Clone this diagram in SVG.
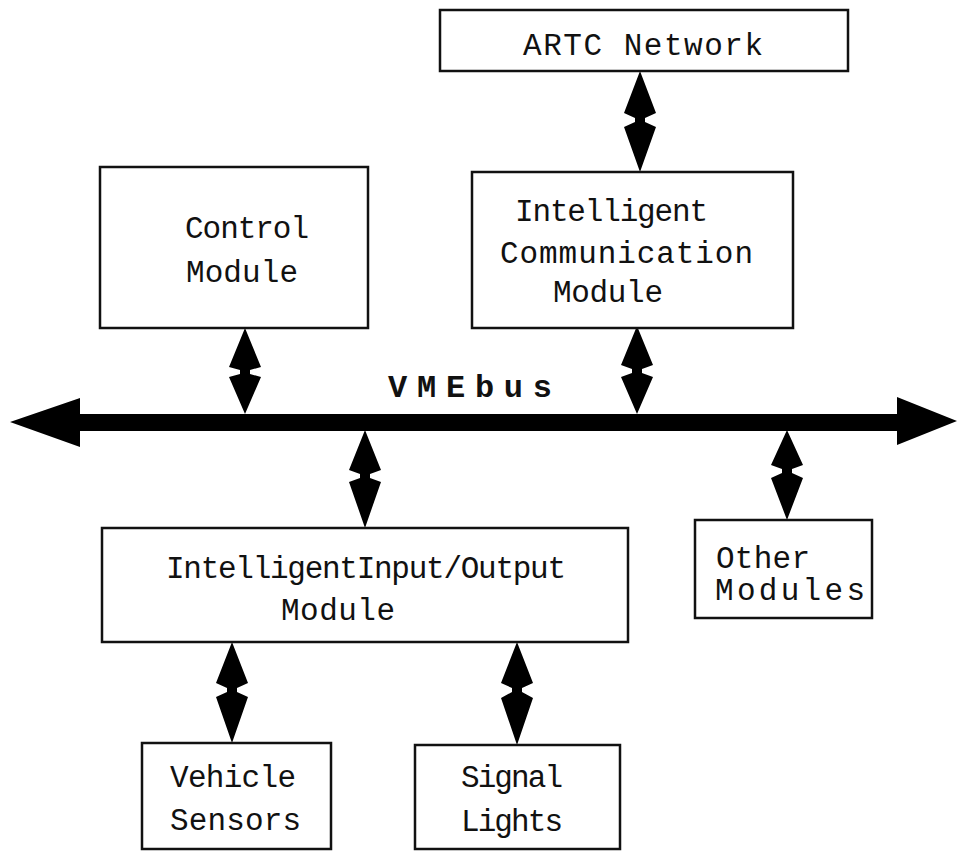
<svg xmlns="http://www.w3.org/2000/svg" width="958" height="852" viewBox="0 0 958 852">
  <style>
    .box { fill: #ffffff; stroke: #111111; stroke-width: 2.5; }
    .lbl { font-family: "Liberation Mono", "Courier New", monospace; font-size: 31px; fill: #111111; }
    .bus-lbl { font-family: "Liberation Mono", "Courier New", monospace; font-size: 32px; font-weight: bold; fill: #111111; }
    .arrow { fill: #000000; stroke: none; }
  </style>
  <rect x="0" y="0" width="958" height="852" fill="#ffffff"/>

  <!-- connectors: the VMEbus and the two-way links -->
  <g id="connectors">
    <polygon id="vmebus" class="arrow" points="10,422 80,398 80,414 897,414 897,397 957,421 897,445 897,431 80,431 80,447"/>
    <text class="bus-lbl" x="388" y="397" textLength="164" lengthAdjust="spacing">VMEbus</text>
    <!-- ARTC Network <-> Communication Module -->
    <polygon class="arrow" points="640,71 656,113 645,118 645,122 656,127 640,172 624,127 635,122 635,118 624,113"/>
    <!-- Control Module <-> bus -->
    <polygon class="arrow" points="245,328 261,367 250,370 250,374 261,377 245,414 229,377 240,374 240,370 229,367"/>
    <!-- Communication Module <-> bus -->
    <polygon class="arrow" points="637,326 653,365 642,369 642,373 653,377 637,414 621,377 632,373 632,369 621,365"/>
    <!-- bus <-> Input/Output Module -->
    <polygon class="arrow" points="365,430 381,470 370,474 370,478 381,482 365,528 349,482 360,478 360,474 349,470"/>
    <!-- bus <-> Other Modules -->
    <polygon class="arrow" points="787,430 803,465 792,469 792,473 803,478 787,520 771,478 782,473 782,469 771,465"/>
    <!-- Input/Output Module <-> Vehicle Sensors -->
    <polygon class="arrow" points="232,642 248,683 237,688 237,692 248,697 232,743 216,697 227,692 227,688 216,683"/>
    <!-- Input/Output Module <-> Signal Lights -->
    <polygon class="arrow" points="517,642 533,683 522,688 522,692 533,698 517,745 501,698 512,692 512,688 501,683"/>
  </g>

  <g id="artc-network">
    <rect class="box" x="440" y="10" width="408" height="61"/>
    <text class="lbl" x="523" y="55" textLength="240" lengthAdjust="spacing">ARTC Network</text>
  </g>

  <g id="control-module">
    <rect class="box" x="100" y="167" width="268" height="161"/>
    <text class="lbl" x="185" y="238" textLength="124" lengthAdjust="spacing">Control</text>
    <text class="lbl" x="186" y="282" textLength="112" lengthAdjust="spacing">Module</text>
  </g>

  <g id="communication-module">
    <rect class="box" x="472" y="172" width="321" height="156"/>
    <text class="lbl" x="515" y="221" textLength="193" lengthAdjust="spacing">Intelligent</text>
    <text class="lbl" x="500" y="263" textLength="253" lengthAdjust="spacing">Communication</text>
    <text class="lbl" x="553" y="302" textLength="110" lengthAdjust="spacing">Module</text>
  </g>

  <g id="io-module">
    <rect class="box" x="102" y="528" width="526" height="114"/>
    <text class="lbl" x="166" y="578" textLength="400" lengthAdjust="spacing">IntelligentInput/Output</text>
    <text class="lbl" x="281" y="620" textLength="114" lengthAdjust="spacing">Module</text>
  </g>

  <g id="other-modules">
    <rect class="box" x="695" y="520" width="177" height="98"/>
    <text class="lbl" x="716" y="568" textLength="94" lengthAdjust="spacing">Other</text>
    <text class="lbl" x="715" y="600" textLength="150" lengthAdjust="spacing">Modules</text>
  </g>

  <g id="vehicle-sensors">
    <rect class="box" x="142" y="743" width="189" height="106"/>
    <text class="lbl" x="170" y="787" textLength="126" lengthAdjust="spacing">Vehicle</text>
    <text class="lbl" x="170" y="830" textLength="131" lengthAdjust="spacing">Sensors</text>
  </g>

  <g id="signal-lights">
    <rect class="box" x="415" y="745" width="205" height="104"/>
    <text class="lbl" x="461" y="787" textLength="102" lengthAdjust="spacing">Signal</text>
    <text class="lbl" x="461" y="831" textLength="102" lengthAdjust="spacing">Lights</text>
  </g>
</svg>
